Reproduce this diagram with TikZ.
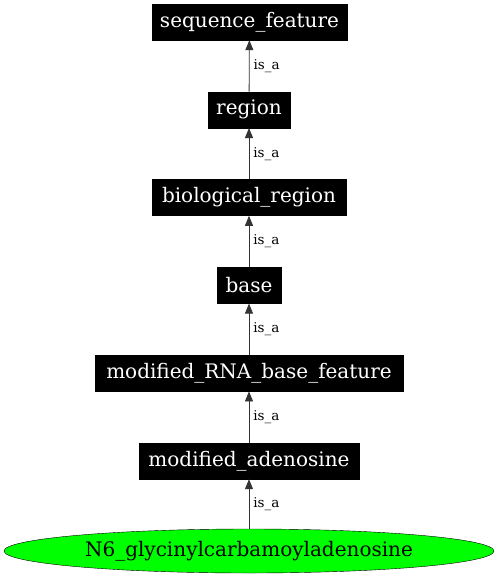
\documentclass[tikz,border=0pt]{standalone}
\usepackage{fontspec}
\setmainfont{DejaVu Serif}
\usetikzlibrary{arrows.meta,shapes.geometric}
\tikzset{
  term/.style={fill=black, draw=black, text=white, inner sep=0pt, minimum height=36pt, font=\fontsize{20}{22}\selectfont},
  leaf/.style={ellipse, fill=green, draw=black, inner sep=0pt, minimum width=490pt, minimum height=44pt, font=\fontsize{20}{22}\selectfont},
  isa/.style={draw=black!80, line width=0.8pt, -{Triangle[length=10pt,width=8pt]}},
  lbl/.style={font=\fontsize{13.5}{15}\selectfont, anchor=west, inner sep=0pt}
}
\begin{document}
\begin{tikzpicture}[x=1pt,y=-1pt]
\useasboundingbox (0,0) rectangle (498,576);
\node[term, minimum width=195pt] (sf) at (249.5,22) {sequence\_feature};
\node[term, minimum width=82pt] (rg) at (249,109.8) {region};
\node[term, minimum width=194pt] (br) at (249,197.6) {biological\_region};
\node[term, minimum width=64pt] (bs) at (249,285.4) {base};
\node[term, minimum width=308pt] (mr) at (249,373.2) {modified\_RNA\_base\_feature};
\node[term, minimum width=220pt] (ma) at (249,461) {modified\_adenosine};
\node[leaf] (n6) at (249,551) {N6\_glycinylcarbamoyladenosine};
\draw[isa] (rg) -- node[lbl, xshift=4pt] {is\_a} (sf);
\draw[isa] (br) -- node[lbl, xshift=4pt] {is\_a} (rg);
\draw[isa] (bs) -- node[lbl, xshift=4pt] {is\_a} (br);
\draw[isa] (mr) -- node[lbl, xshift=4pt] {is\_a} (bs);
\draw[isa] (ma) -- node[lbl, xshift=4pt] {is\_a} (mr);
\draw[isa] (n6) -- node[lbl, xshift=4pt] {is\_a} (ma);
\end{tikzpicture}
\end{document}
